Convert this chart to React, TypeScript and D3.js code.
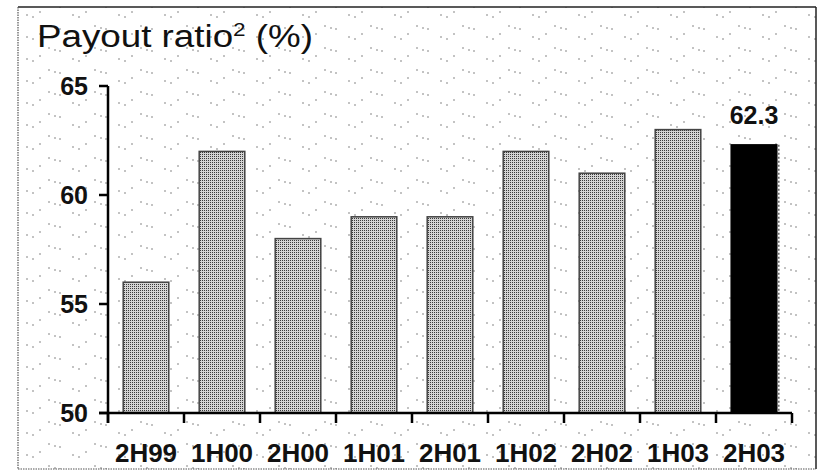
import React from "react";
import * as d3 from "d3";

const categories = ["2H99", "1H00", "2H00", "1H01", "2H01", "1H02", "2H02", "1H03", "2H03"];
const payout = [56, 62, 58, 59, 59, 62, 61, 63, 62.3];
const yTicks = [50, 55, 60, 65];
const highlight = "2H03";
const highlightLabel = "62.3";

const W = 819;
const H = 470;
const margin = { top: 86, right: 27, bottom: 57, left: 108 };

const App = () => {
  const x = d3
    .scaleBand<string>()
    .domain(categories)
    .range([margin.left, W - margin.right])
    .paddingInner(0.4)
    .paddingOuter(0.2);

  const y = d3
    .scaleLinear()
    .domain([50, 65])
    .range([H - margin.bottom, margin.top]);

  const font = "'Liberation Sans', Arial, sans-serif";
  const baseY = y(50);
  // boundaries between categories for the x ticks
  const step = x.step();
  const xTickPos = d3.range(categories.length + 1).map((i) => margin.left + i * step);

  return (
    <svg
      width={W}
      height={H}
      style={{ position: "absolute", left: 0, top: 0, display: "block" }}
      fontFamily={font}
    >
      <defs>
        <pattern id="barDots" width="2" height="2" patternUnits="userSpaceOnUse">
          <rect width="2" height="2" fill="#d4d4d4" />
          <rect width="1" height="1" fill="#3a3a3a" />
        </pattern>
        <pattern id="bgDots" width="46" height="22" patternUnits="userSpaceOnUse">
          <rect width="46" height="22" fill="#fff" />
          <circle cx="3" cy="4" r="0.8" fill="#777" />
          <circle cx="9" cy="6" r="0.8" fill="#777" />
          <circle cx="14" cy="7" r="0.8" fill="#777" />
          <circle cx="27" cy="15" r="0.8" fill="#777" />
          <circle cx="33" cy="17" r="0.8" fill="#777" />
          <circle cx="40" cy="12" r="0.8" fill="#777" />
        </pattern>
      </defs>

      <rect x={18} y={7} width={798} height={462} fill="url(#bgDots)" />
      <line x1={18} y1={7} x2={816} y2={7} stroke="#222" strokeWidth={1.5} />
      <line x1={816} y1={7} x2={816} y2={469} stroke="#222" strokeWidth={1.5} />
      <line x1={18} y1={7} x2={18} y2={469} stroke="#555" strokeWidth={1.2} strokeDasharray="1.5 1" />
      <line x1={18} y1={469} x2={816} y2={469} stroke="#555" strokeWidth={1.2} strokeDasharray="1.5 1" />

      <text
        x={37}
        y={47}
        fontSize={31}
        fill="#111"
        textLength={276}
        lengthAdjust="spacingAndGlyphs"
      >
        Payout ratio
        <tspan fontSize={19} dy={-11}>2</tspan>
        <tspan dy={11}> (%)</tspan>
      </text>

      {categories.map((c, i) => {
        const v = payout[i];
        const isHi = c === highlight;
        const bx = x(c) ?? 0;
        return (
          <g key={c}>
            <rect
              x={bx}
              y={y(v)}
              width={x.bandwidth()}
              height={baseY - y(v)}
              fill={isHi ? "#000" : "url(#barDots)"}
              stroke={isHi ? "#000" : "#444"}
              strokeWidth={1.5}
            />
            {isHi && (
              <line
                x1={bx + x.bandwidth() + 2}
                y1={y(v)}
                x2={bx + x.bandwidth() + 2}
                y2={baseY}
                stroke="#666"
                strokeWidth={1.5}
                strokeDasharray="2 2"
              />
            )}
          </g>
        );
      })}

      <text
        x={(x(highlight) ?? 0) + x.bandwidth() / 2}
        y={y(payout[categories.indexOf(highlight)]) - 21}
        textAnchor="middle"
        fontSize={25}
        fontWeight="bold"
        fill="#111"
      >
        {highlightLabel}
      </text>

      {/* y axis */}
      <line x1={margin.left} y1={y(65)} x2={margin.left} y2={baseY + 10} stroke="#000" strokeWidth={2.5} />
      {yTicks.map((t) => (
        <g key={t}>
          <line x1={margin.left - 9} y1={y(t)} x2={margin.left} y2={y(t)} stroke="#000" strokeWidth={2.5} />
          <text
            x={margin.left - 20}
            y={y(t) + 9}
            textAnchor="end"
            fontSize={25}
            fontWeight="bold"
            fill="#111"
          >
            {t}
          </text>
        </g>
      ))}

      {/* x axis */}
      <line x1={margin.left - 9} y1={baseY} x2={W - margin.right} y2={baseY} stroke="#000" strokeWidth={2.5} />
      {xTickPos.map((p, i) => (
        <line key={i} x1={p} y1={baseY} x2={p} y2={baseY + 10} stroke="#000" strokeWidth={2.5} />
      ))}
      {categories.map((c) => (
        <text
          key={c}
          x={(x(c) ?? 0) + x.bandwidth() / 2}
          y={baseY + 49}
          textAnchor="middle"
          fontSize={26}
          fontWeight="bold"
          fill="#111"
        >
          {c}
        </text>
      ))}
    </svg>
  );
};

export default App;
